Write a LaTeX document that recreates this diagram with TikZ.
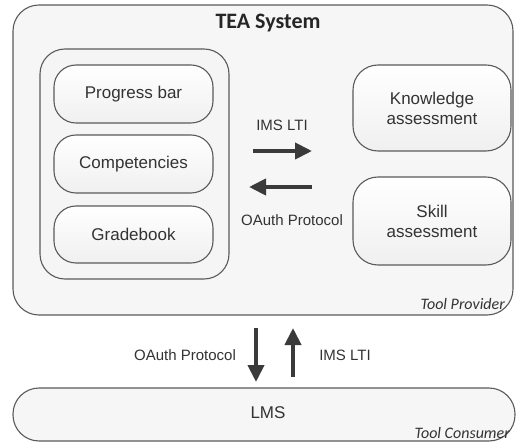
\documentclass[tikz,border=0pt]{standalone}
\usepackage{fontspec}
\setmainfont{Liberation Sans}
\newfontfamily\calfont{Carlito}
\usetikzlibrary{arrows.meta}
\definecolor{edgegray}{HTML}{5A5A5A}
\definecolor{txtgray}{HTML}{333333}
\definecolor{arrgray}{HTML}{3A3A3A}
\definecolor{bggray}{HTML}{F6F6F6}
\begin{document}
\begin{tikzpicture}[x=1pt,y=-1pt,
  box/.style={draw=edgegray,line width=1.1pt,rectangle,inner sep=0pt,align=center,
    top color=white,bottom color=black!6,text=txtgray,font=\fontsize{17}{20}\selectfont},
  bigbox/.style={draw=edgegray,line width=1.1pt,rectangle,inner sep=0pt,fill=bggray},
  lbl/.style={text=txtgray,font=\fontsize{15}{18}\selectfont,inner sep=0pt},
  role/.style={text=txtgray,font=\calfont\itshape\fontsize{16}{19}\selectfont,inner sep=0pt,anchor=east},
  proto/.style={draw=arrgray,line width=4pt,-{Triangle[width=16pt,length=17pt]}}
]
\useasboundingbox (0,0) rectangle (516,443);
% outer boxes
\node[bigbox,minimum width=500pt,minimum height=310pt,rounded corners=26pt] (tp) at (263,160) {};
\node[bigbox,minimum width=502pt,minimum height=53pt,rounded corners=26pt] (lms) at (264,414.5) {};
\node[bigbox,minimum width=189pt,minimum height=230pt,rounded corners=25pt,fill=black!4] (grp) at (134.5,164) {};
% inner boxes
\node[box,minimum width=159pt,minimum height=58pt,rounded corners=22pt] (pb) at (133.5,94) {Progress bar};
\node[box,minimum width=159pt,minimum height=58pt,rounded corners=22pt] (comp) at (133.5,164) {Competencies};
\node[box,minimum width=159pt,minimum height=57pt,rounded corners=22pt] (gb) at (133.5,234.5) {Gradebook};
\node[box,minimum width=158pt,minimum height=86pt,rounded corners=25pt] (ka) at (432,108) {Knowledge\\assessment};
\node[box,minimum width=158pt,minimum height=88pt,rounded corners=25pt] (sa) at (432,221) {Skill\\assessment};
% texts
\node[inner sep=0pt,font=\calfont\bfseries\fontsize{22}{26}\selectfont,text=black!85] (title) at (268,23) {TEA System};
\node[role] (tprov) at (505,304) {Tool Provider};
\node[role] (tcons) at (510,433) {Tool Consumer};
\node[text=txtgray,font=\fontsize{17}{20}\selectfont,inner sep=0pt] (lmst) at (268,413) {LMS};
\node[lbl] (l1) at (282,125) {IMS LTI};
\node[lbl] (l2) at (292,220) {OAuth Protocol};
\node[lbl] (l3) at (185,355) {OAuth Protocol};
\node[lbl] (l4) at (345,355) {IMS LTI};
% arrow end points
\coordinate (r1) at (253,151);
\coordinate (r2) at (312,151);
\coordinate (s1) at (312,187);
\coordinate (s2) at (249,187);
\coordinate (d1) at (256,328);
\coordinate (d2) at (256,382);
\coordinate (u1) at (293,377);
\coordinate (u2) at (293,328);
\draw[proto] (r1) -- (r2);
\draw[proto] (s1) -- (s2);
\draw[proto] (d1) -- (d2);
\draw[proto] (u1) -- (u2);
\end{tikzpicture}
\end{document}
